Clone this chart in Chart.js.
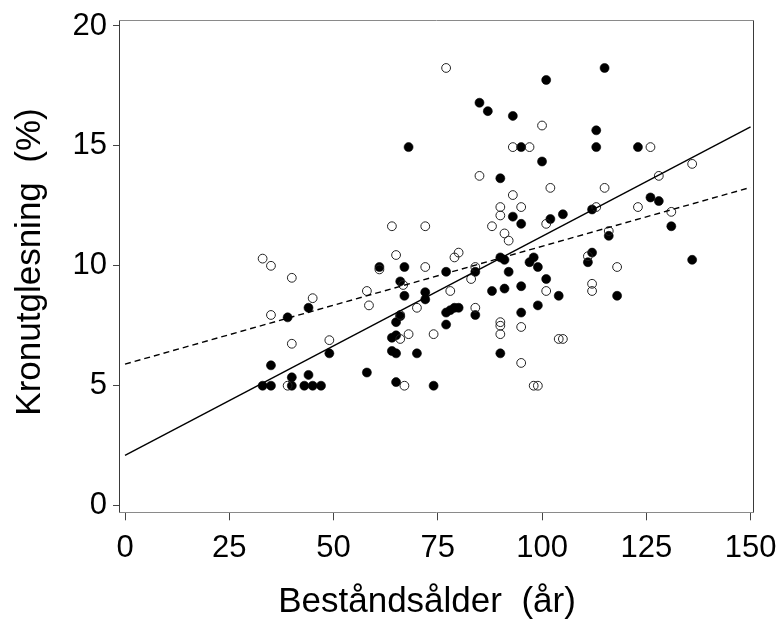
<!DOCTYPE html>
<html><head><meta charset="utf-8">
<script src="https://cdn.jsdelivr.net/npm/chart.js@4"></script>
<style>html,body{margin:0;padding:0;background:#fff}#wrap{width:778px;height:619px}</style>
</head><body><div id="wrap"><canvas id="c" width="778" height="619"></canvas></div>
<script>
const xTicks = [0, 25, 50, 75, 100, 125, 150];
const yTicks = [0, 5, 10, 15, 20];
const xTitle = 'Beståndsålder  (år)';
const yTitle = 'Kronutglesning  (%)';

const openAge = [33,35,40,45,35,40,49,39,58,58.5,64,72,65,79,80,61,72,84,66.7,78,70,83,84,66,68,66,74,67,88,91,92,101,90,90,90,95,95,101,104,105,98,99,111,112,112,116,118,77,100,93,97,126,85,102,115,93,90,95,90,123,128,113,136,131];
const openCrown = [10.3,10.0,9.5,8.65,7.95,6.75,6.9,5.0,8.95,8.35,11.65,11.65,10.45,10.35,10.55,9.85,9.95,9.95,9.2,8.95,8.25,9.45,8.25,7.95,7.15,6.95,7.15,5.0,11.65,11.35,11.05,11.75,7.65,7.5,7.15,7.45,5.95,8.95,6.95,6.95,5.0,5.0,10.4,9.25,8.95,11.45,9.95,18.25,15.85,14.95,14.95,14.95,13.75,13.25,13.25,12.95,12.45,12.45,12.1,12.45,13.75,12.45,14.25,12.25];

const filledAge = [39,44,35,49,40,44,33,35,40,43,45,47,58,61,67,77,84,66,67,72,72,88,66,65,77,78,79,80,84,77,64,65,64,65,70,65,74,95,102,90,91,92,97,98,99,101,91,95,104,95,99,90,111,112,116,118,115,101,85,87,93,95,113,113,123,100,90,93,105,112,126,128,131,136,68];
const filledCrown = [7.85,8.25,5.85,6.35,5.35,5.45,5,5,5,5,5,5,5.55,9.95,9.95,9.75,9.75,9.35,8.75,8.9,8.6,8.95,7.9,7.65,8.05,8.15,8.25,8.25,7.95,7.55,7.0,7.1,6.45,6.35,6.35,5.15,5.0,11.75,11.95,10.35,10.25,9.75,10.15,10.35,9.95,9.45,9.05,9.15,8.75,8.05,8.35,6.35,10.15,10.55,11.25,8.75,18.25,17.75,16.8,16.45,16.25,14.95,15.65,14.95,14.95,14.35,13.65,12.05,12.15,12.35,12.85,12.7,11.65,10.25,14.95];

const lineAge = [0, 150];
const solidLine = [2.1, 15.79];
const dashedLine = [5.9, 13.27];

const FONT = '"Liberation Sans", Arial, Helvetica, sans-serif';
const pts = (xs, ys) => xs.map((x, i) => ({x: x, y: ys[i]}));

const frame = {
  id: 'frame',
  beforeDatasetsDraw(chart) {
    const ctx = chart.ctx, a = chart.chartArea;
    const l = Math.round(a.left) - 0.5, r = Math.round(a.right) - 0.5;
    const t = Math.round(a.top) + 0.5, b = Math.round(a.bottom) - 0.5;
    ctx.save();
    ctx.lineWidth = 1;
    ctx.strokeStyle = '#8a8a8a';
    ctx.beginPath(); ctx.moveTo(l, t); ctx.lineTo(r, t); ctx.moveTo(l, b); ctx.lineTo(r, b); ctx.stroke();
    ctx.strokeStyle = '#3a3a3a';
    ctx.beginPath(); ctx.moveTo(l, t); ctx.lineTo(l, b); ctx.moveTo(r, t); ctx.lineTo(r, b); ctx.stroke();
    ctx.restore();
  },
  afterDraw(chart) {
    const ctx = chart.ctx;
    ctx.save();
    ctx.fillStyle = '#000';
    ctx.font = '35px ' + FONT;
    ctx.textAlign = 'center';
    ctx.textBaseline = 'alphabetic';
    ctx.fillText(xTitle, 427, 612);
    ctx.translate(39.5, 262);
    ctx.rotate(-Math.PI / 2);
    ctx.fillText(yTitle, 0, 0);
    ctx.restore();
  }
};

new Chart(document.getElementById('c'), {
  type: 'scatter',
  data: {
    datasets: [
      {data: pts(lineAge, solidLine), showLine: true, borderColor: '#000', borderWidth: 1.4, pointRadius: 0, fill: false},
      {data: pts(lineAge, dashedLine), showLine: true, borderColor: '#000', borderWidth: 1.4, borderDash: [6, 4], pointRadius: 0, fill: false},
      {data: pts(openAge, openCrown), pointRadius: 4.4, pointBorderWidth: 1, pointBorderColor: '#222', pointBackgroundColor: 'rgba(0,0,0,0)'},
      {data: pts(filledAge, filledCrown), pointRadius: 4.5, pointBorderWidth: 0.6, pointBorderColor: '#000', pointBackgroundColor: '#000'}
    ]
  },
  options: {
    responsive: false,
    devicePixelRatio: 1,
    animation: false,
    events: [],
    layout: {padding: {left: 0, top: 20, right: 23.7, bottom: 0}},
    plugins: {legend: {display: false}, tooltip: {enabled: false}},
    scales: {
      x: {
        type: 'linear', min: -1.2, max: 150.9,
        afterBuildTicks: s => { s.ticks = xTicks.map(v => ({value: v})); },
        afterFit: s => { s.height = 105.7; s.paddingLeft = 0; s.paddingRight = 0; },
        grid: {drawOnChartArea: false, drawTicks: true, tickLength: 7, color: '#444', lineWidth: 1},
        border: {display: false},
        ticks: {padding: 13, color: '#000', maxRotation: 0, autoSkip: false, font: {family: FONT, size: 31, lineHeight: 1}}
      },
      y: {
        type: 'linear', min: -0.32, max: 20.25,
        afterBuildTicks: s => { s.ticks = yTicks.map(v => ({value: v})); },
        afterFit: s => { s.width = 120; s.paddingTop = 0; s.paddingBottom = 0; },
        grid: {drawOnChartArea: false, drawTicks: true, tickLength: 7, color: '#444', lineWidth: 1},
        border: {display: false},
        ticks: {padding: 6, color: '#000', autoSkip: false, font: {family: FONT, size: 31, lineHeight: 1}}
      }
    }
  },
  plugins: [frame]
});
</script>
</body></html>
